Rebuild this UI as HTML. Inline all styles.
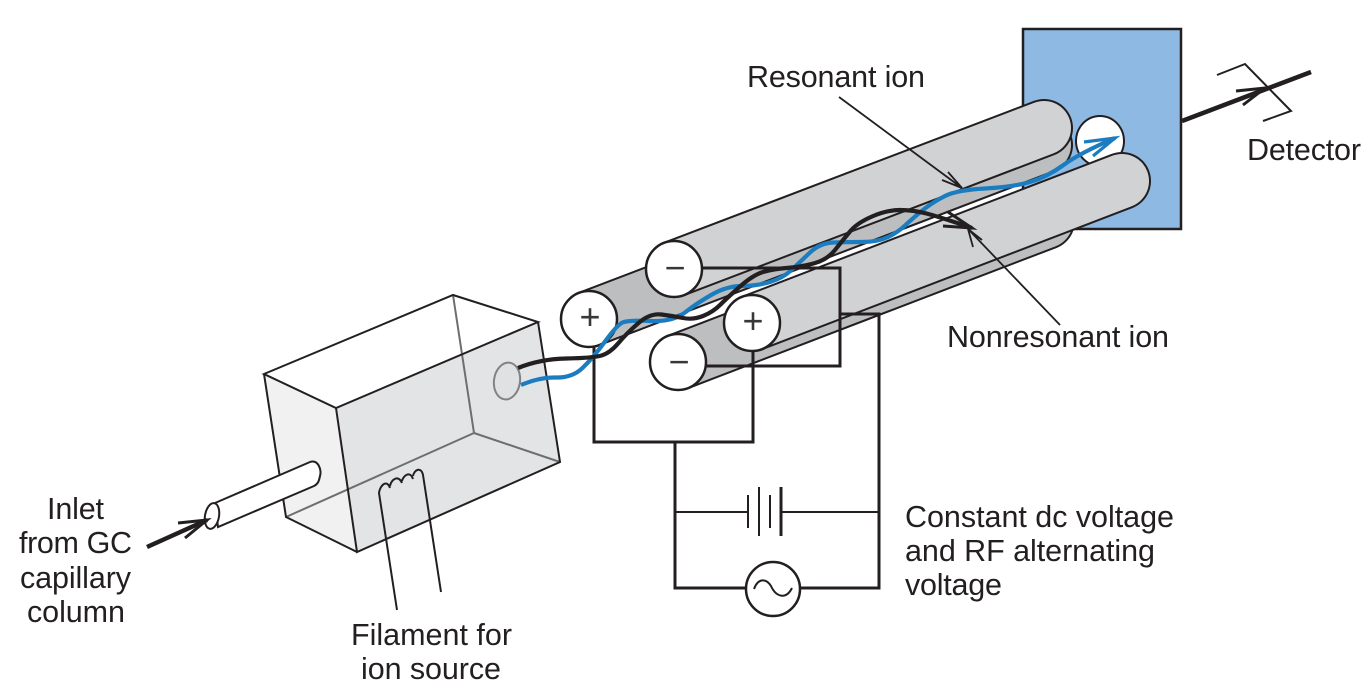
<!DOCTYPE html>
<html>
<head>
<meta charset="utf-8">
<style>
html,body{margin:0;padding:0;background:#fff;width:1369px;height:697px;overflow:hidden}
svg{display:block}
text{font-family:"Liberation Sans",sans-serif;font-size:30.5px;fill:#231f20}
.k{stroke:#231f20;fill:none;stroke-width:2}
.w{stroke:#231f20;fill:none;stroke-width:3}
.g{stroke:#6d6e71;fill:none;stroke-width:2}
.s{font-size:36px;text-anchor:middle;fill:#3a3738}
</style>
</head>
<body>
<svg width="1369" height="697" viewBox="0 0 1369 697" xmlns="http://www.w3.org/2000/svg">
<!-- blue detector box -->
<rect x="1023" y="29" width="158" height="200" fill="#8db9e3" stroke="#231f20" stroke-width="2.5"/>
<ellipse cx="1100" cy="141" rx="24" ry="25" fill="#fff" stroke="#231f20" stroke-width="2"/>

<!-- rods -->
<g fill="none" stroke-linecap="round">
<line x1="589" y1="319" x2="1044" y2="145" stroke="#231f20" stroke-width="58"/>
<line x1="589" y1="319" x2="1044" y2="145" stroke="#bcbec0" stroke-width="54"/>
<line x1="674" y1="269" x2="1044" y2="128" stroke="#231f20" stroke-width="58"/>
<line x1="674" y1="269" x2="1044" y2="128" stroke="#d1d2d4" stroke-width="54"/>
<line x1="678" y1="362" x2="1046" y2="221" stroke="#231f20" stroke-width="58"/>
<line x1="678" y1="362" x2="1046" y2="221" stroke="#bcbec0" stroke-width="54"/>
<line x1="752" y1="323" x2="1122" y2="181" stroke="#231f20" stroke-width="58"/>
<line x1="752" y1="323" x2="1122" y2="181" stroke="#d1d2d4" stroke-width="54"/>
</g>

<!-- circuit wires -->
<path class="w" d="M702 268H840V366H706"/>
<path class="w" d="M840 314H879V588H800"/>
<path class="w" d="M594 345V442H753V349"/>
<path class="w" d="M675 442V588H746"/>
<path class="k" d="M675 512H748M781 512H879"/>
<path class="k" d="M748 495V528M759 487V536M770 495V528"/>
<path class="w" d="M781 487V536"/>
<circle cx="773" cy="589" r="27" fill="#fff" stroke="#231f20" stroke-width="2.5"/>
<path class="k" d="M754 589C758 578 766 578 771 586C776 597 786 600 792 588"/>

<!-- rod end circles -->
<g fill="#fff" stroke="#231f20" stroke-width="2.5">
<circle cx="589" cy="319" r="28"/>
<circle cx="674" cy="269" r="28"/>
<circle cx="678" cy="362" r="28"/>
<circle cx="752" cy="323" r="28"/>
</g>
<text class="s" x="590" y="329">+</text>
<text class="s" x="753" y="333">+</text>
<text class="s" x="675" y="280">−</text>
<text class="s" x="679" y="374">−</text>

<!-- ion source box -->
<polygon points="264,374 336,408 357,552 286,517" fill="#f1f1f2"/>
<polygon points="336,408 538,322 560,462 357,552" fill="#e3e4e5"/>
<path class="g" d="M453 295L474 433M474 433L560 462M474 433L286 517"/>
<path class="k" d="M264 374L453 295L538 322L336 408ZM336 408L357 552L560 462L538 322M264 374L286 517L357 552"/>
<ellipse cx="507" cy="381" rx="13" ry="18.5" transform="rotate(8 507 381)" fill="#e0e1e2" stroke="#808285" stroke-width="2"/>

<!-- capillary tube -->
<path class="k" style="fill:#fff" d="M215 503L310 462C318 459 322 470 320 476C319 481 318 484 314 486L218 527Z"/>
<ellipse cx="212" cy="516" rx="7" ry="13" transform="rotate(10 212 516)" fill="#fff" stroke="#231f20" stroke-width="2"/>
<path d="M147 547L207 520" stroke="#231f20" stroke-width="4.5" fill="none"/>
<path d="M178 523L207 520L185 538" stroke="#231f20" stroke-width="3" fill="none"/>

<!-- filament -->
<path class="k" d="M397 610L379 493C380 485 387 479 390 488M390 486C391 480 398 474 402 483M402 481C403 476 410 470 413 479M413 476C414 470 421 466 423 475L441 592"/>

<!-- ion paths -->
<path fill="none" stroke="#1b7dc0" stroke-width="4.2" d="M521 385Q540 377 556 377.5Q572 378 582.5 368Q593 358 605 341.5Q617 325 622.5 322.5Q628 320 650.5 321Q673 322 685 312.5Q697 303 712 294.5Q727 286 742 286Q757 286 770 282Q783 278 791.5 270Q800 262 810 252.5Q820 243 833.5 242.5Q847 242 862 242Q877 242 887 237.5Q897 233 905 225.5Q913 218 923 210Q933 202 945 196Q957 190 985 188.5Q1013 187 1030 182Q1047 177 1063.5 165Q1080 153 1115 138"/>
<path fill="none" stroke="#1b7dc0" stroke-width="3.2" d="M1084 142L1115 138L1093 156"/>
<path fill="none" stroke="#231f20" stroke-width="4.2" d="M518 368Q540 359 566.5 358.5Q593 358 601.5 355.5Q610 353 618.5 343Q627 333 638.5 323Q650 313 661.5 314.5Q673 316 683 318Q693 320 703 316Q713 312 720 305Q727 298 740 286.5Q753 275 763 272Q773 269 786.5 268Q800 267 813.5 263.5Q827 260 835 250Q843 240 850 231.5Q857 223 872 216.5Q887 210 900 210Q913 210 926.5 213.5Q940 217 972 228"/>
<path fill="none" stroke="#231f20" stroke-width="3" d="M943 226L972 228L948 212"/>

<!-- leaders -->
<path fill="none" stroke="#231f20" stroke-width="1.8" d="M839 97L962 188M948 172L962 188L942 180"/>
<path fill="none" stroke="#231f20" stroke-width="1.8" d="M1060 325L968 229L982 240M968 229L973 247"/>

<!-- detector arrow -->
<path d="M1182 121L1311 72" stroke="#231f20" stroke-width="4.5" fill="none"/>
<path d="M1236 91L1265 88L1243 105" stroke="#231f20" stroke-width="3" fill="none"/>
<path class="k" d="M1217 75L1245 64L1291 111L1263 121"/>

<!-- labels -->
<text x="747" y="87" textLength="178">Resonant ion</text>
<text x="1247" y="160" textLength="114">Detector</text>
<text x="947" y="347" textLength="222">Nonresonant ion</text>
<text x="905" y="527" textLength="269">Constant dc voltage</text>
<text x="905" y="561" textLength="250">and RF alternating</text>
<text x="905" y="595" textLength="97">voltage</text>
<text x="47" y="519" textLength="57">Inlet</text>
<text x="19" y="553" textLength="113">from GC</text>
<text x="20" y="588" textLength="111">capillary</text>
<text x="27" y="622" textLength="98">column</text>
<text x="351" y="645" textLength="161">Filament for</text>
<text x="361" y="679" textLength="140">ion source</text>
</svg>
</body>
</html>
